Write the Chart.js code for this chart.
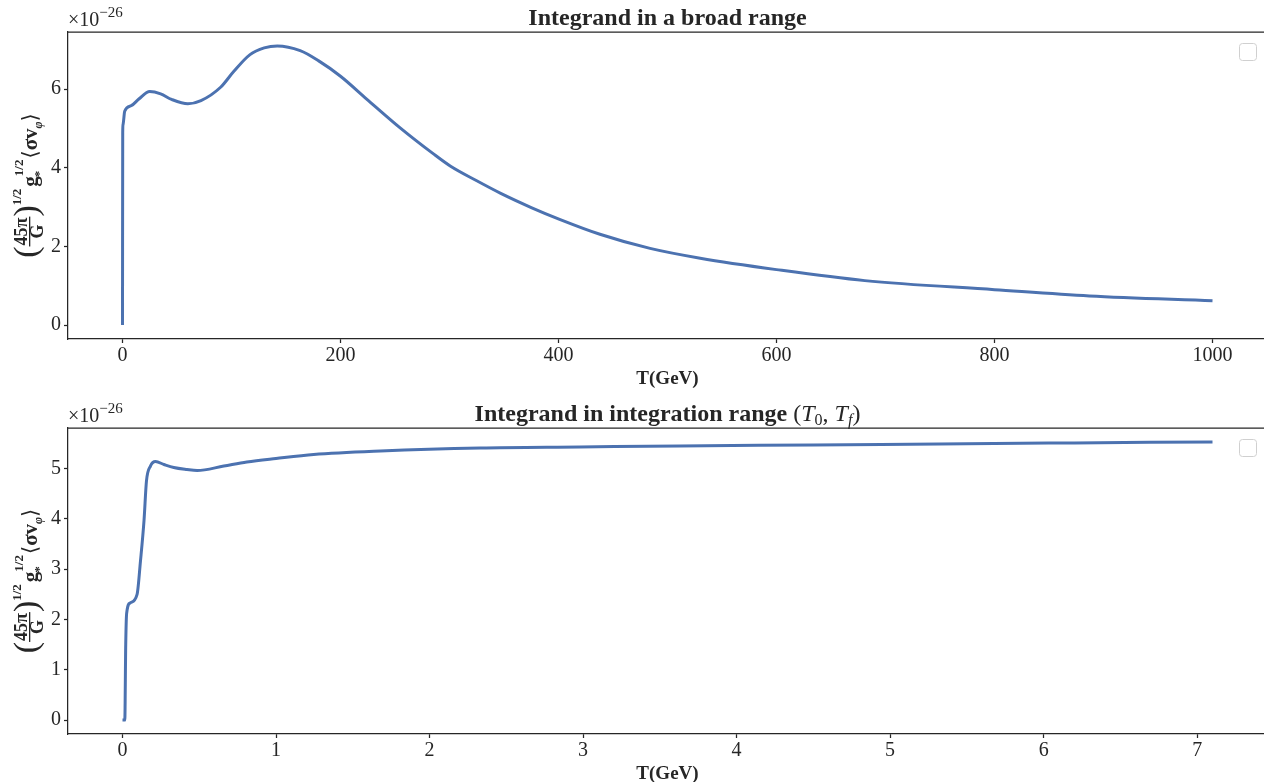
<!DOCTYPE html>
<html lang="en">
<head>
    <meta charset="UTF-8">
    <title>Integrand</title>
    <script src="https://cdn.jsdelivr.net/npm/chart.js"></script>
    <style>
        body {
            margin: 0;
            background: #fff;
            overflow: hidden;
            width: 1264px;
            height: 782px;
            position: relative;
        }
        .box {
            position: absolute;
            left: 0;
        }
    </style>
</head>
<body>
    <div class="box" style="top:0"><canvas id="broad" width="1270" height="392"></canvas></div>
    <div class="box" style="top:392px"><canvas id="narrow" width="1270" height="392"></canvas></div>

    <script>
        // values are in units of 1e-26
        const tBroad = [0, 0.2, 0.5, 1, 2, 8, 15, 25, 35, 45, 60, 72, 90, 102, 117, 130, 142, 163, 180, 200, 224, 255, 285, 301, 325, 347, 375, 401, 438, 484, 530, 600, 681, 800, 887, 1000];
        const vBroad = [0, 4.9, 5.1, 5.2, 5.44, 5.58, 5.75, 5.94, 5.88, 5.74, 5.63, 5.71, 6.05, 6.45, 6.88, 7.05, 7.1, 6.98, 6.72, 6.33, 5.75, 5.01, 4.36, 4.04, 3.67, 3.35, 2.99, 2.69, 2.31, 1.95, 1.70, 1.41, 1.13, 0.90, 0.74, 0.62];

        const tRange = [0, 0.015, 0.021, 0.027, 0.05, 0.095, 0.117, 0.14, 0.156, 0.182, 0.215, 0.27, 0.334, 0.42, 0.486, 0.66, 0.81, 1.0, 1.245, 1.68, 2.33, 2.98, 3.63, 4.5, 5.32, 6.2, 7.1];
        const vRange = [0, 0, 1.5, 2.12, 2.33, 2.5, 3.16, 3.96, 4.75, 5.05, 5.14, 5.08, 5.02, 4.98, 4.96, 5.05, 5.13, 5.2, 5.28, 5.35, 5.41, 5.43, 5.45, 5.47, 5.49, 5.51, 5.53];

        const broadXTicks = [0, 200, 400, 600, 800, 1000];
        const broadYTicks = [0, 2, 4, 6];
        const rangeXTicks = [0, 1, 2, 3, 4, 5, 6, 7];
        const rangeYTicks = [0, 1, 2, 3, 4, 5];

        const ink = '#262626';
        const serif = '"Liberation Serif", "DejaVu Serif", serif';

        // draws a run of text pieces left to right, returns width
        function run(ctx, x, y, parts, measureOnly) {
            let w = 0;
            parts.forEach(p => {
                ctx.font = p.font;
                if (!measureOnly) ctx.fillText(p.text, x + w, y + (p.dy || 0));
                w += ctx.measureText(p.text).width;
            });
            return w;
        }

        function yLabel(ctx, area) {
            ctx.save();
            ctx.fillStyle = ink;
            ctx.textBaseline = 'alphabetic';
            ctx.translate(37, (area.top + area.bottom) / 2);
            ctx.rotate(-Math.PI / 2);
            const paren = 'normal 34px ' + serif;
            const fracF = 'bold 18px ' + serif;
            const main = 'bold 21px ' + serif;
            const small = 'bold 13px ' + serif;
            ctx.font = fracF;
            const numW = ctx.measureText('45π').width;
            const denW = ctx.measureText('G').width;
            const fracW = Math.max(numW, denW) + 2;
            ctx.font = paren;
            const pw = ctx.measureText('(').width;
            ctx.font = small;
            const halfW = ctx.measureText('1/2').width;
            ctx.font = main;
            const gW = ctx.measureText('g').width;
            const tail = [
                { text: '⟨', font: 'normal 21px ' + serif },
                { text: 'σv', font: main },
                { text: 'φ', font: 'italic bold 12px ' + serif, dy: 5 },
                { text: '⟩', font: 'normal 21px ' + serif }
            ];
            const tailW = run(ctx, 0, 0, tail, true);
            const total = pw * 2 + fracW + halfW + 2 + gW + halfW + 1 + tailW;
            let x = -total / 2;
            ctx.font = paren;
            ctx.fillText('(', x, 0);
            x += pw;
            ctx.font = fracF;
            ctx.fillText('45π', x + (fracW - numW) / 2, -10);
            ctx.fillRect(x, -8, fracW, 1.3);
            ctx.fillText('G', x + (fracW - denW) / 2, 6);
            x += fracW;
            ctx.font = paren;
            ctx.fillText(')', x, 0);
            x += pw;
            ctx.font = small;
            ctx.fillText('1/2', x, -16);
            x += halfW + 2;
            ctx.font = main;
            ctx.fillText('g', x, 0);
            x += gW;
            ctx.font = small;
            ctx.fillText('1/2', x, -14);
            ctx.fillText('*', x - 1, 6);
            x += halfW + 1;
            run(ctx, x, 0, tail);
            ctx.restore();
        }

        const decor = {
            id: 'decor',
            afterDraw(chart, args, opts) {
                const ctx = chart.ctx;
                const a = chart.chartArea;
                ctx.save();
                // top and right spines
                ctx.strokeStyle = ink;
                ctx.lineWidth = 1.25;
                ctx.beginPath();
                ctx.moveTo(a.left, a.top);
                ctx.lineTo(a.right, a.top);
                ctx.lineTo(a.right, a.bottom);
                ctx.stroke();
                // empty legend frame
                ctx.strokeStyle = '#d0d0d0';
                ctx.lineWidth = 1;
                ctx.beginPath();
                ctx.roundRect(1239.5, a.top + 11.5, 17, 17, 3);
                ctx.stroke();
                ctx.fillStyle = ink;
                ctx.textBaseline = 'alphabetic';
                // title
                const cx = (a.left + a.right) / 2;
                const tw = run(ctx, 0, 0, opts.title, true);
                run(ctx, cx - tw / 2, a.top - 7, opts.title);
                // offset text
                run(ctx, a.left, a.top - 6, [
                    { text: '×10', font: 'normal 20px ' + serif },
                    { text: '−26', font: 'normal 15px ' + serif, dy: -9 }
                ]);
                // x label
                ctx.font = 'bold 19px ' + serif;
                ctx.textAlign = 'center';
                ctx.fillText('T(GeV)', cx, a.bottom + 45);
                ctx.restore();
                yLabel(ctx, a);
            }
        };

        function makeChart(id, xs, ys, xTicks, yTicks, xMax, yMax, top, bottomH, title) {
            const xPad = xMax * 0.05;
            const yPad = yMax * 0.05;
            return new Chart(document.getElementById(id), {
                type: 'line',
                data: {
                    datasets: [{
                        data: xs.map((t, i) => ({ x: t, y: ys[i] })),
                        borderColor: '#4c72b0',
                        borderWidth: 3,
                        pointRadius: 0,
                        cubicInterpolationMode: 'monotone',
                        fill: false
                    }]
                },
                options: {
                    responsive: false,
                    animation: false,
                    layout: { padding: { top: top, right: 3, left: 0, bottom: 0 } },
                    plugins: {
                        legend: { display: false },
                        tooltip: { enabled: false },
                        decor: { title: title }
                    },
                    scales: {
                        x: {
                            type: 'linear',
                            min: -xPad,
                            max: xMax + xPad,
                            afterBuildTicks: s => { s.ticks = xTicks.map(v => ({ value: v })); },
                            afterFit: s => { s.height = bottomH; },
                            grid: { drawOnChartArea: false, tickLength: 4, tickColor: ink, tickWidth: 1.25 },
                            border: { color: ink, width: 1.25 },
                            ticks: { color: ink, padding: 1, maxRotation: 0, font: { family: serif, size: 20 }, callback: v => String(v) }
                        },
                        y: {
                            min: -yPad,
                            max: yMax + yPad,
                            afterBuildTicks: s => { s.ticks = yTicks.map(v => ({ value: v })); },
                            afterFit: s => { s.width = 68; },
                            grid: { drawOnChartArea: false, tickLength: 4, tickColor: ink, tickWidth: 1.25 },
                            border: { color: ink, width: 1.25 },
                            ticks: { color: ink, padding: 3, font: { family: serif, size: 20 }, callback: v => String(v) }
                        }
                    }
                },
                plugins: [decor]
            });
        }

        makeChart('broad', tBroad, vBroad, broadXTicks, broadYTicks, 1000, 7.1, 32, 53, [
            { text: 'Integrand in a broad range', font: 'bold 24px ' + serif }
        ]);

        makeChart('narrow', tRange, vRange, rangeXTicks, rangeYTicks, 7.1, 5.53, 36, 50, [
            { text: 'Integrand in integration range ', font: 'bold 24px ' + serif },
            { text: '(', font: 'normal 24px ' + serif },
            { text: 'T', font: 'italic 24px ' + serif },
            { text: '0', font: 'normal 16px ' + serif, dy: 4 },
            { text: ', ', font: 'normal 24px ' + serif },
            { text: 'T', font: 'italic 24px ' + serif },
            { text: 'f', font: 'italic 16px ' + serif, dy: 4 },
            { text: ')', font: 'normal 24px ' + serif }
        ]);
    </script>
</body>
</html>
